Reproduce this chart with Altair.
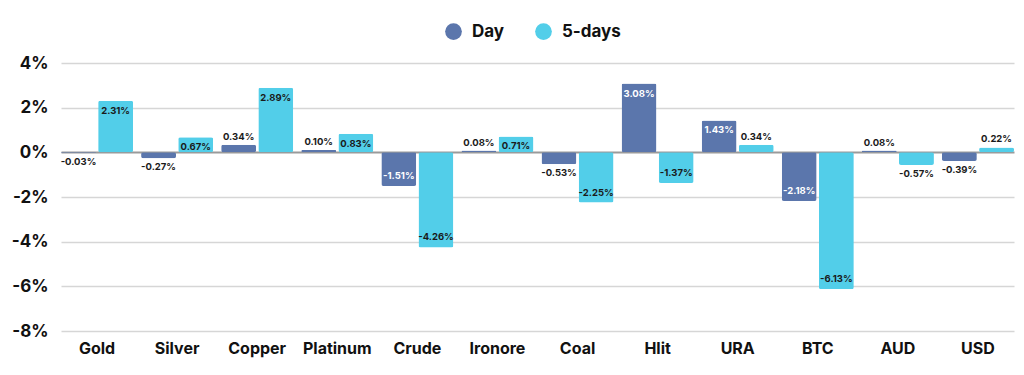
import altair as alt
import pandas as pd

categories = ["Gold", "Silver", "Copper", "Platinum", "Crude", "Ironore",
              "Coal", "Hlit", "URA", "BTC", "AUD", "USD"]
day_values = [-0.03, -0.27, 0.34, 0.10, -1.51, 0.08, -0.53, 3.08, 1.43, -2.18, 0.08, -0.39]
five_day_values = [2.31, 0.67, 2.89, 0.83, -4.26, 0.71, -2.25, -1.37, 0.34, -6.13, -0.57, 0.22]
series_names = ["Day", "5-days"]
series_colors = ["#5B76AC", "#52CEE9"]
y_ticks = [-8, -6, -4, -2, 0, 2, 4]

rows = []
for c, d, f in zip(categories, day_values, five_day_values):
    for s, v in zip(series_names, [d, f]):
        inside = abs(v) >= 0.6
        if inside and s == "Day":
            tc = "#ffffff"
        else:
            tc = "#1a1a1a"
        rows.append({"cat": c, "series": s, "value": v,
                     "label": f"{v:.2f}%", "inside": inside, "tcolor": tc})
df = pd.DataFrame(rows)

FONT = "Inter"

x = alt.X("cat:N", sort=categories,
          scale=alt.Scale(paddingInner=0.1, paddingOuter=0.0),
          axis=alt.Axis(title=None, labelAngle=0, ticks=False, domain=False, grid=False,
                        labelFontSize=16, labelFontWeight="bold", labelColor="#111111",
                        labelFont=FONT, labelPadding=9))
xo = alt.XOffset("series:N", sort=series_names, scale=alt.Scale(paddingInner=0.06))
y_axis = alt.Axis(title=None, values=y_ticks, labelExpr="datum.value + '%'",
                  ticks=False, domain=False, labelFontSize=17, labelFontWeight="bold",
                  labelColor="#111111", labelFont=FONT, labelPadding=13,
                  gridColor=alt.condition("datum.value === 0", alt.value("#9a9a9a"), alt.value("#d6d6d6")),
                  gridWidth=alt.condition("datum.value === 0", alt.value(2), alt.value(1.5)))
y_scale = alt.Scale(domain=[-8, 4], nice=False)
y = alt.Y("value:Q", scale=y_scale, axis=y_axis)

base = alt.Chart(df)

bars = base.mark_bar(cornerRadius=2).encode(
    x=x, xOffset=xo, y=y,
    color=alt.Color("series:N", sort=series_names,
                    scale=alt.Scale(domain=series_names, range=series_colors),
                    legend=alt.Legend(title=None, orient="none", direction="horizontal",
                                      legendX=384, legendY=-40, symbolType="circle",
                                      symbolSize=280, symbolStrokeWidth=0,
                                      labelFontSize=17, labelFontWeight="bold",
                                      labelFont=FONT, labelColor="#111111",
                                      columnPadding=30, labelOffset=10)),
)

def text_layer(cond, baseline, dy):
    return base.transform_filter(cond).mark_text(
        baseline=baseline, dy=dy, fontSize=9.5, fontWeight="bold", font=FONT
    ).encode(
        x=x, xOffset=xo, y=y,
        text="label:N",
        color=alt.Color("tcolor:N", scale=None, legend=None),
    )

t1 = text_layer("datum.value >= 0 && datum.inside", "top", 5)
t2 = text_layer("datum.value >= 0 && !datum.inside", "bottom", -3)
t3 = text_layer("datum.value < 0 && datum.inside", "bottom", -5)
t4 = text_layer("datum.value < 0 && !datum.inside", "top", 4)

chart = alt.layer(bars, t1, t2, t3, t4).properties(
    width=953, height=268,
    background="#ffffff",
    autosize=alt.AutoSizeParams(type="none"),
    padding={"left": 61, "top": 63, "right": 10, "bottom": 44},
).configure_view(stroke="transparent", strokeWidth=0).configure_axis(domain=False)

chart.save("out.html", embed_options={"renderer": "svg", "actions": False})
